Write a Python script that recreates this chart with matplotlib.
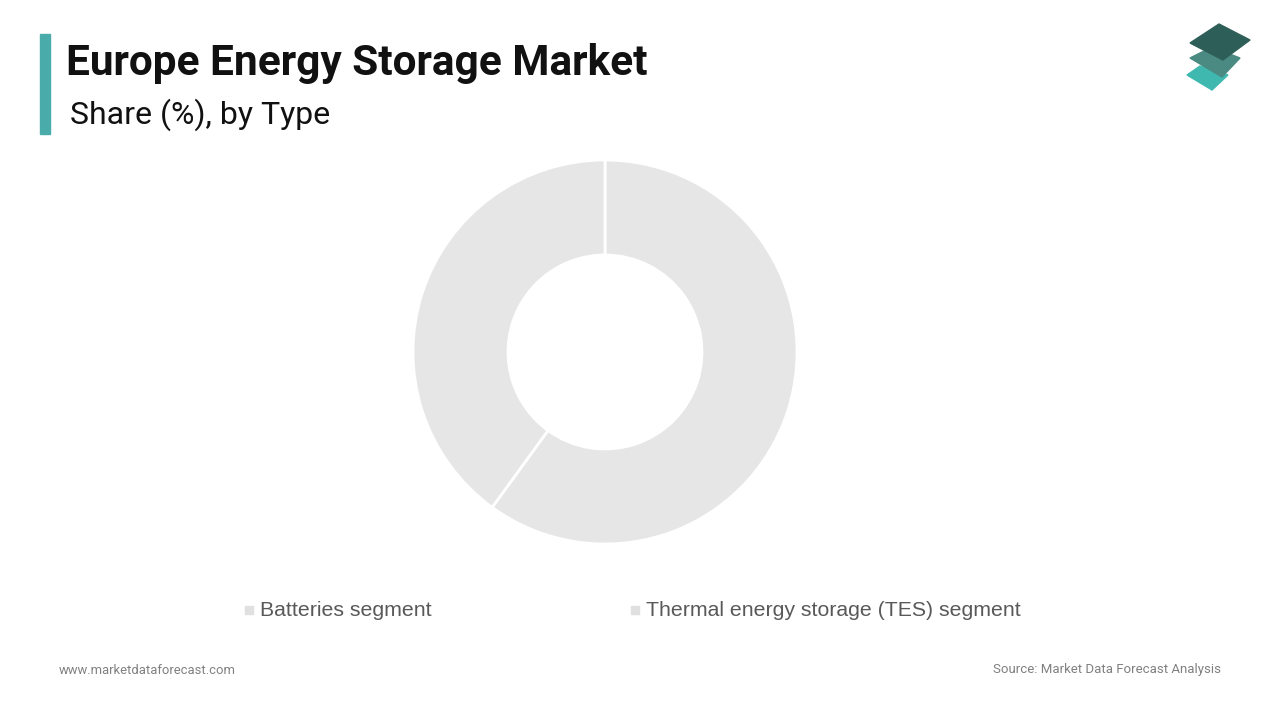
import matplotlib
matplotlib.use("Agg")
import matplotlib.pyplot as plt
from matplotlib.patches import Polygon, Rectangle

# data
labels = ["Batteries segment", "Thermal energy storage (TES) segment"]
shares = [60, 40]
colors = ["#e6e6e6", "#e6e6e6"]

W, H = 1280, 720


def fx(x):
    return x / W


def fy(y):
    return 1 - y / H


fig = plt.figure(figsize=(12.8, 7.2), dpi=100)
fig.patch.set_facecolor("white")

# accent bar + titles
fig.patches.append(Rectangle((fx(40), fy(134)), 10 / W, 100 / H,
                             transform=fig.transFigure, color="#4aabab"))
fig.text(fx(66), fy(63), "Europe Energy Storage Market", fontsize=30.5,
         fontweight="bold", family="Roboto", va="center", ha="left", color="#111111")
fig.text(fx(70), fy(115), "Share (%), by Type", fontsize=23,
         family="Roboto", va="center", ha="left", color="#111111")

# logo (three stacked diamonds)
logo = [
    ([(1187, 75), (1200, 66), (1228, 75), (1212, 90)], "#3fb8b0"),
    ([(1190, 58), (1212, 47), (1240, 58), (1222, 77)], "#4a8a83"),
    ([(1190, 43), (1219, 24), (1250, 40), (1223, 60)], "#2e5e58"),
]
for pts, c in logo:
    fig.patches.append(Polygon([(fx(x), fy(y)) for x, y in pts], closed=True,
                               transform=fig.transFigure, color=c))

# donut
cx, cy, r = 605, 352, 192
ax = fig.add_axes([fx(cx - r), fy(cy + r), 2 * r / W, 2 * r / H])
ax.pie(shares, colors=colors, startangle=90, counterclock=False, radius=1,
       wedgeprops=dict(width=95 / r, edgecolor="white", linewidth=2))
ax.set_xlim(-1.0, 1.0)
ax.set_ylim(-1.0, 1.0)
ax.set_aspect("equal")
ax.axis("off")

# legend
leg_x = [245, 631]
for x, lab, c in zip(leg_x, labels, colors):
    fig.patches.append(Rectangle((fx(x), fy(614)), 8 / W, 8 / H,
                                 transform=fig.transFigure, color="#e0e0e0"))
    fig.text(fx(x + 15), fy(610), lab, fontsize=15.3, family="Liberation Sans",
             va="center", ha="left", color="#595959")

# footer
fig.text(fx(59), fy(670), "www.marketdataforecast.com", fontsize=9.4,
         family="Roboto", va="center", ha="left", color="#808080")
fig.text(fx(1221), fy(670), "Source: Market Data Forecast Analysis", fontsize=9.5,
         family="Roboto", va="center", ha="right", color="#808080")

fig.savefig("out.png", dpi=100, facecolor="white")
